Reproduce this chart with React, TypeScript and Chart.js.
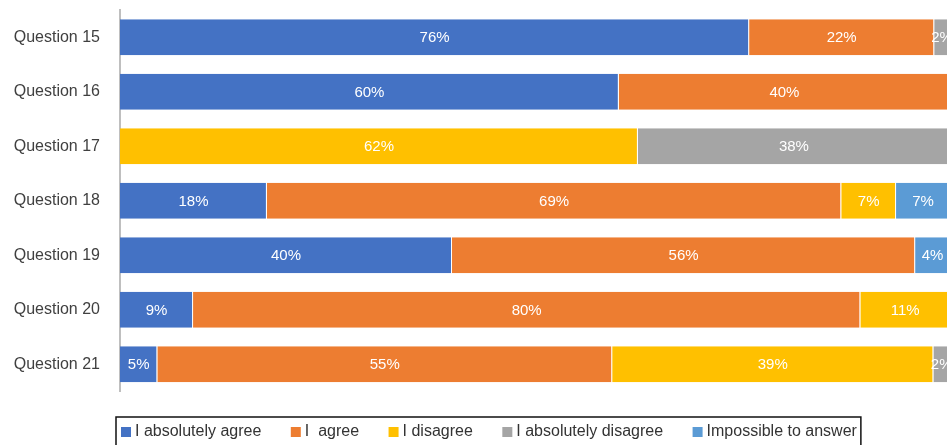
import React, { useEffect, useRef } from "react";
import { Chart, registerables } from "chart.js";

Chart.register(...registerables);

const categories = [
  "Question 15",
  "Question 16",
  "Question 17",
  "Question 18",
  "Question 19",
  "Question 20",
  "Question 21",
];

const seriesNames = [
  "I absolutely agree",
  "I  agree",
  "I disagree",
  "I absolutely disagree",
  "Impossible to answer",
];

const absolutelyAgree = [75.8, 60.1, 0, 17.7, 40.0, 8.8, 4.5];
const agree = [22.3, 39.9, 0, 69.2, 55.8, 80.4, 54.8];
const disagree = [0, 0, 62.4, 6.6, 0, 10.8, 38.7];
const absolutelyDisagree = [1.9, 0, 37.6, 0, 0, 0, 2.0];
const impossible = [0, 0, 0, 6.5, 4.2, 0, 0];

const colors = ["#4472C4", "#ED7D31", "#FFC000", "#A5A5A5", "#5B9BD5"];

const FONT = '"Liberation Sans", Arial, Helvetica, sans-serif';

const dataLabelPlugin = {
  id: "dataLabels",
  afterDatasetsDraw(chart: any) {
    const ctx = chart.ctx;
    ctx.save();
    ctx.font = `15px ${FONT}`;
    ctx.fillStyle = "#ffffff";
    ctx.textAlign = "center";
    ctx.textBaseline = "middle";
    chart.data.datasets.forEach((ds: any, i: number) => {
      const meta = chart.getDatasetMeta(i);
      meta.data.forEach((el: any, j: number) => {
        const v = ds.data[j];
        if (!v) return;
        const cx = (el.x + el.base) / 2;
        ctx.fillText(`${Math.round(v)}%`, cx, el.y + 1);
      });
    });
    ctx.restore();
  },
};

const legendPlugin = {
  id: "boxLegend",
  afterDraw(chart: any) {
    const ctx = chart.ctx;
    const area = chart.chartArea;
    ctx.save();
    ctx.font = `16px ${FONT}`;
    ctx.textBaseline = "alphabetic";
    ctx.textAlign = "left";
    const startX = area.left + 1;
    const boxTop = area.bottom + 35.5;
    const baseline = area.bottom + 44.5;
    const borderTop = area.bottom + 25.5;
    let x = startX;
    let end = x;
    chart.data.datasets.forEach((ds: any, i: number) => {
      ctx.fillStyle = ds.backgroundColor;
      ctx.fillRect(x, boxTop, 10, 10);
      ctx.fillStyle = "#333333";
      ctx.fillText(ds.label, x + 14, baseline);
      const w = ctx.measureText(ds.label).width;
      end = x + 14 + w;
      x = end + 29.5;
    });
    ctx.strokeStyle = "#111111";
    ctx.lineWidth = 1.5;
    ctx.strokeRect(startX - 5, borderTop, end - startX + 9, 60);
    ctx.restore();
  },
};

export default function App() {
  const ref = useRef<HTMLCanvasElement | null>(null);

  useEffect(() => {
    if (!ref.current) return;
    const values = [absolutelyAgree, agree, disagree, absolutelyDisagree, impossible];
    const chart = new Chart(ref.current, {
      type: "bar",
      data: {
        labels: categories,
        datasets: values.map((d, i) => ({
          label: seriesNames[i],
          data: d,
          backgroundColor: colors[i],
          borderColor: "rgba(255,255,255,0.4)",
          borderWidth: { top: 0, bottom: 0, left: 0, right: 1 },
          borderSkipped: false,
          categoryPercentage: 1,
          barPercentage: 0.66,
        })),
      },
      options: {
        indexAxis: "y",
        responsive: false,
        animation: false,
        layout: { padding: { top: 10, bottom: 53.5, left: 0, right: 0 } },
        plugins: {
          legend: { display: false },
          tooltip: { enabled: false },
        },
        scales: {
          x: {
            display: false,
            stacked: true,
            min: 0,
            max: 99.64,
          },
          y: {
            stacked: true,
            grid: { display: false, drawTicks: true, tickLength: 20 },
            border: { display: true, color: "#bfbfbf", width: 2 },
            ticks: {
              padding: 0,
              color: "#404040",
              font: { family: FONT, size: 16 },
            },
            afterFit(scale: any) {
              scale.width = 120;
            },
          },
        },
      },
      plugins: [dataLabelPlugin, legendPlugin],
    } as any);
    return () => chart.destroy();
  }, []);

  return (
    <div style={{ position: "fixed", left: 0, top: 0, width: 947, height: 445, background: "#fff" }}>
      <canvas ref={ref} width={947} height={445} style={{ display: "block" }} />
    </div>
  );
}
